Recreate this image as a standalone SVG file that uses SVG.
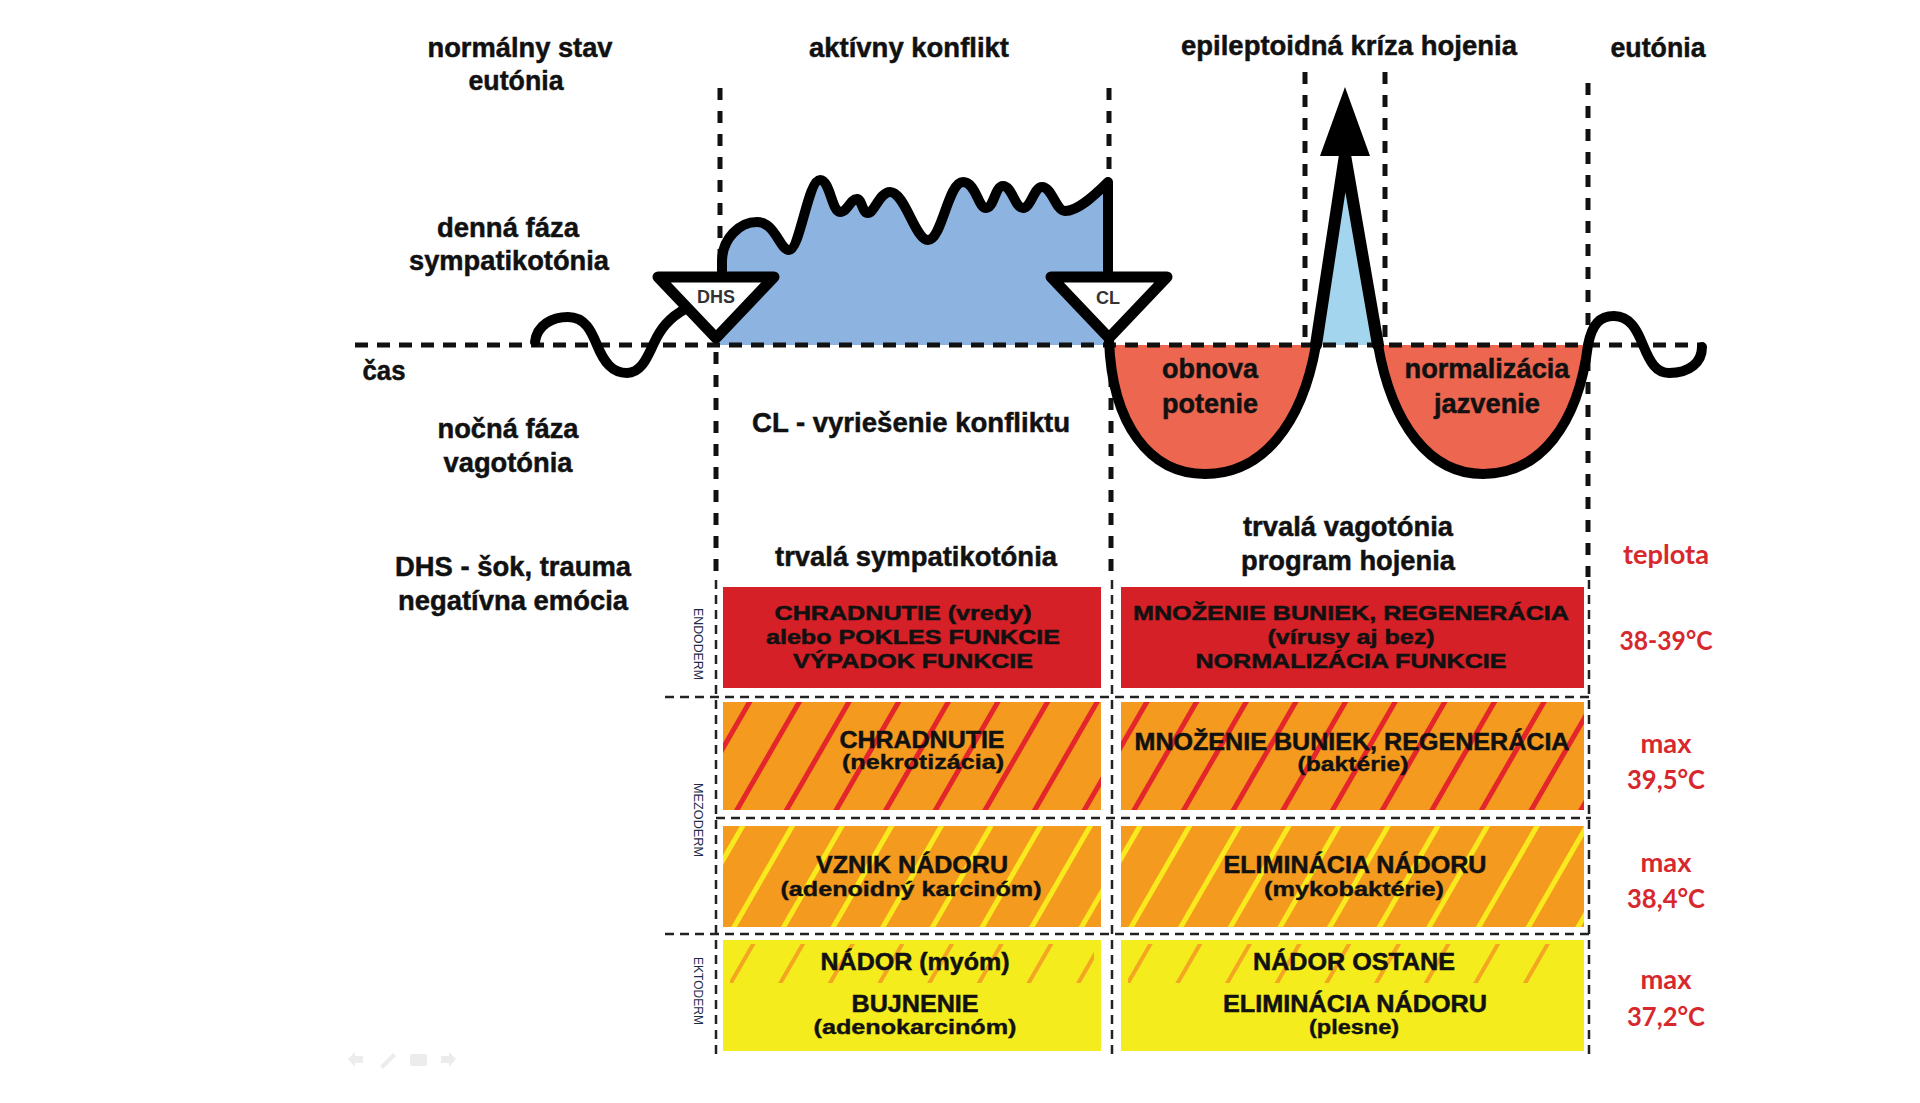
<svg xmlns="http://www.w3.org/2000/svg" width="1920" height="1103" viewBox="0 0 1920 1103">
<style>
.h{font-family:"Liberation Sans",Arial,sans-serif;font-weight:bold;font-size:28px;fill:#111;stroke:#111;stroke-width:0.5;text-anchor:middle}
.b{font-family:"Liberation Sans",Arial,sans-serif;font-weight:bold;font-size:24px;fill:#111;stroke:#111;stroke-width:0.5;text-anchor:middle}
.r{font-family:"Liberation Sans",Arial,sans-serif;font-weight:bold;font-size:21px;fill:#111;stroke:#111;stroke-width:0.5;text-anchor:middle}
.s{font-family:"Liberation Sans",Arial,sans-serif;font-weight:bold;font-size:21px;fill:#111;stroke:#111;stroke-width:0.4;text-anchor:middle}
.tri{font-family:"Liberation Sans",Arial,sans-serif;font-weight:bold;font-size:18px;fill:#333;text-anchor:middle}
.t{font-family:Lato,"Open Sans",sans-serif;font-weight:bold;font-size:27px;fill:#d7282d;text-anchor:middle}
.g{font-family:"Liberation Sans",Arial,sans-serif;font-size:12.5px;fill:#1d2b4a;text-anchor:middle}
.dk{fill:none;stroke:#111;stroke-width:5;stroke-dasharray:13 9}
.dv{fill:none;stroke:#111;stroke-width:5;stroke-dasharray:12 11}
.dt{fill:none;stroke:#222;stroke-width:2.5;stroke-dasharray:9 6}
.ln{fill:none;stroke:#000;stroke-width:10;stroke-linecap:round;stroke-linejoin:round}
.sp{fill:none;stroke:#000;stroke-width:12;stroke-linecap:round;stroke-linejoin:round}
.trg{fill:#fff;stroke:#000;stroke-width:11;stroke-linejoin:round}
.ic{fill:#ececec}
</style>
<defs>
<pattern id="hR" patternUnits="userSpaceOnUse" width="43" height="20" patternTransform="translate(10,0) rotate(30)"><rect x="0" y="0" width="5" height="20" fill="#e4252b"/></pattern>
<pattern id="hY" patternUnits="userSpaceOnUse" width="43" height="20" patternTransform="translate(25,0) rotate(30)"><rect x="0" y="0" width="5" height="20" fill="#f8ea1c"/></pattern>
<pattern id="hO" patternUnits="userSpaceOnUse" width="43" height="20" patternTransform="translate(5,0) rotate(30)"><rect x="0" y="0" width="4" height="20" fill="#f4a522"/></pattern>
</defs>
<rect width="1920" height="1103" fill="#fff"/>

<g id="fills">
<path d="M716,345 L722,277 L722,262 C722,238 740,222 757,222 C775,222 780,250 789,250 C800,250 808,180 820,180 C830,180 832,212 840,212 C848,212 850,199 857,199 C862,199 862,213 868,213 C874,213 880,192 890,192 C905,192 915,240 928,240 C942,240 948,182 963,182 C976,182 978,208 986,208 C994,208 995,186 1003,186 C1012,186 1015,208 1023,208 C1031,208 1034,187 1042,187 C1052,187 1056,211 1065,211 C1078,211 1095,195 1108,182 L1109,345 Z" fill="#8db3e0"/>
<path d="M1109,345 C1112,425 1150,474 1205,474 C1262,474 1302,425 1316,345 Z" fill="#ec6650"/>
<path d="M1378,345 C1392,425 1430,474 1483,474 C1540,474 1578,425 1588,345 Z" fill="#ec6650"/>
<path d="M1316,345 L1345,150 L1378,345 Z" fill="#a3d5ee"/>
</g>

<g id="connectors">
<line class="dk" x1="355" y1="345" x2="1700" y2="345"/>
<line class="dv" x1="720" y1="88" x2="720" y2="272"/>
<line class="dv" x1="716" y1="352" x2="716" y2="577"/>
<line class="dt" x1="716" y1="580" x2="716" y2="1056"/>
<line class="dv" x1="1109" y1="88" x2="1109" y2="272"/>
<line class="dv" x1="1111" y1="352" x2="1111" y2="577"/>
<line class="dt" x1="1112" y1="580" x2="1112" y2="1056"/>
<line class="dv" x1="1305" y1="72" x2="1305" y2="345"/>
<line class="dv" x1="1385" y1="72" x2="1385" y2="345"/>
<line class="dv" x1="1588" y1="83" x2="1588" y2="577"/>
<line class="dt" x1="1589" y1="580" x2="1589" y2="1056"/>
<line class="dt" x1="665" y1="697" x2="1591" y2="697"/>
<line class="dt" x1="716" y1="818" x2="1591" y2="818"/>
<line class="dt" x1="665" y1="934" x2="1591" y2="934"/>
</g>

<g id="curve">
<path class="ln" d="M535,342 C537,325 552,317 568,317 C586,317 592,333 597,345 C604,362 612,373 627,373 C642,373 648,355 654,343 C660,330 668,318 687,308"/>
<path class="ln" d="M722,277 L722,262 C722,238 740,222 757,222 C775,222 780,250 789,250 C800,250 808,180 820,180 C830,180 832,212 840,212 C848,212 850,199 857,199 C862,199 862,213 868,213 C874,213 880,192 890,192 C905,192 915,240 928,240 C942,240 948,182 963,182 C976,182 978,208 986,208 C994,208 995,186 1003,186 C1012,186 1015,208 1023,208 C1031,208 1034,187 1042,187 C1052,187 1056,211 1065,211 C1078,211 1095,195 1108,182 L1108,277"/>
<path class="ln" d="M1109,340 C1112,425 1150,474 1205,474 C1262,474 1302,425 1316,345"/>
<path class="sp" d="M1316,345 L1345,155 L1378,345"/>
<path class="ln" d="M1378,345 C1392,425 1430,474 1483,474 C1540,474 1578,425 1588,345 C1592,324 1600,316 1614,316 C1630,316 1637,330 1643,345 C1650,362 1656,373 1669,373 C1690,373 1702,362 1702,347"/>
<polygon points="1320,156 1345,87 1370,156" fill="#000"/>
</g>

<g id="dhs">
<polygon class="trg" points="658,277 774,277 716,338"/>
<text class="tri" x="716" y="303">DHS</text>
</g>
<g id="cl">
<polygon class="trg" points="1051,277 1167,277 1109,338"/>
<text class="tri" x="1108" y="304">CL</text>
</g>

<g id="curve-labels">
<text class="h" x="1210" y="378" textLength="96" lengthAdjust="spacingAndGlyphs">obnova</text>
<text class="h" x="1210" y="413" textLength="96" lengthAdjust="spacingAndGlyphs">potenie</text>
<text class="h" x="1487" y="378" textLength="165" lengthAdjust="spacingAndGlyphs">normalizácia</text>
<text class="h" x="1487" y="413" textLength="106" lengthAdjust="spacingAndGlyphs">jazvenie</text>
</g>

<g id="headers">
<text class="h" x="520" y="57" textLength="185" lengthAdjust="spacingAndGlyphs">normálny stav</text>
<text class="h" x="516" y="90" textLength="95" lengthAdjust="spacingAndGlyphs">eutónia</text>
<text class="h" x="909" y="57" textLength="200" lengthAdjust="spacingAndGlyphs">aktívny konflikt</text>
<text class="h" x="1349" y="55" textLength="336" lengthAdjust="spacingAndGlyphs">epileptoidná kríza hojenia</text>
<text class="h" x="1658" y="57" textLength="95" lengthAdjust="spacingAndGlyphs">eutónia</text>
</g>

<g id="side-labels">
<text class="h" x="508" y="237" textLength="142" lengthAdjust="spacingAndGlyphs">denná fáza</text>
<text class="h" x="509" y="270" textLength="200" lengthAdjust="spacingAndGlyphs">sympatikotónia</text>
<text class="h" x="384" y="380" textLength="43" lengthAdjust="spacingAndGlyphs">čas</text>
<text class="h" x="508" y="438" textLength="141" lengthAdjust="spacingAndGlyphs">nočná fáza</text>
<text class="h" x="508" y="472" textLength="129" lengthAdjust="spacingAndGlyphs">vagotónia</text>
<text class="h" x="911" y="432" textLength="318" lengthAdjust="spacingAndGlyphs">CL - vyriešenie konfliktu</text>
<text class="h" x="513" y="576" textLength="236" lengthAdjust="spacingAndGlyphs">DHS - šok, trauma</text>
<text class="h" x="513" y="610" textLength="230" lengthAdjust="spacingAndGlyphs">negatívna emócia</text>
<text class="h" x="916" y="566" textLength="282" lengthAdjust="spacingAndGlyphs">trvalá sympatikotónia</text>
<text class="h" x="1348" y="536" textLength="210" lengthAdjust="spacingAndGlyphs">trvalá vagotónia</text>
<text class="h" x="1348" y="570" textLength="214" lengthAdjust="spacingAndGlyphs">program hojenia</text>
</g>

<g id="germ-layers">
<text class="g" transform="translate(694,644) rotate(90)" textLength="72" lengthAdjust="spacingAndGlyphs">ENDODERM</text>
<text class="g" transform="translate(694,820) rotate(90)" textLength="74" lengthAdjust="spacingAndGlyphs">MEZODERM</text>
<text class="g" transform="translate(694,991) rotate(90)" textLength="68" lengthAdjust="spacingAndGlyphs">EKTODERM</text>
</g>

<g id="row-endoderm">
<rect x="723" y="587" width="378" height="101" fill="#d52027"/>
<rect x="1121" y="587" width="463" height="101" fill="#d52027"/>
<text class="r" x="903" y="620" textLength="257" lengthAdjust="spacingAndGlyphs">CHRADNUTIE (vredy)</text>
<text class="r" x="913" y="644" textLength="294" lengthAdjust="spacingAndGlyphs">alebo POKLES FUNKCIE</text>
<text class="r" x="913" y="668" textLength="240" lengthAdjust="spacingAndGlyphs">VÝPADOK FUNKCIE</text>
<text class="r" x="1351" y="620" textLength="436" lengthAdjust="spacingAndGlyphs">MNOŽENIE BUNIEK, REGENERÁCIA</text>
<text class="r" x="1351" y="644" textLength="167" lengthAdjust="spacingAndGlyphs">(vírusy aj bez)</text>
<text class="r" x="1351" y="668" textLength="311" lengthAdjust="spacingAndGlyphs">NORMALIZÁCIA FUNKCIE</text>
</g>

<g id="row-mezoderm-1">
<rect x="723" y="702" width="378" height="108" fill="#f39a1f"/>
<rect x="1121" y="702" width="463" height="108" fill="#f39a1f"/>
<rect x="723" y="702" width="378" height="108" fill="url(#hR)"/>
<rect x="1121" y="702" width="463" height="108" fill="url(#hR)"/>
<text class="b" x="922" y="748" textLength="165" lengthAdjust="spacingAndGlyphs">CHRADNUTIE</text>
<text class="s" x="923" y="769" textLength="162" lengthAdjust="spacingAndGlyphs">(nekrotizácia)</text>
<text class="b" x="1352" y="750" textLength="435" lengthAdjust="spacingAndGlyphs">MNOŽENIE BUNIEK, REGENERÁCIA</text>
<text class="s" x="1353" y="771" textLength="111" lengthAdjust="spacingAndGlyphs">(baktérie)</text>
</g>

<g id="row-mezoderm-2">
<rect x="723" y="826" width="378" height="101" fill="#f39a1f"/>
<rect x="1121" y="826" width="463" height="101" fill="#f39a1f"/>
<rect x="723" y="826" width="378" height="101" fill="url(#hY)"/>
<rect x="1121" y="826" width="463" height="101" fill="url(#hY)"/>
<text class="b" x="912" y="873" textLength="192" lengthAdjust="spacingAndGlyphs">VZNIK NÁDORU</text>
<text class="s" x="911" y="896" textLength="261" lengthAdjust="spacingAndGlyphs">(adenoidný karcinóm)</text>
<text class="b" x="1355" y="873" textLength="263" lengthAdjust="spacingAndGlyphs">ELIMINÁCIA NÁDORU</text>
<text class="s" x="1354" y="896" textLength="180" lengthAdjust="spacingAndGlyphs">(mykobaktérie)</text>
</g>

<g id="row-ektoderm">
<rect x="723" y="940" width="378" height="111" fill="#f4ec1c"/>
<rect x="1121" y="940" width="463" height="111" fill="#f4ec1c"/>
<rect x="730" y="944" width="364" height="39" fill="url(#hO)"/>
<rect x="1128" y="944" width="440" height="39" fill="url(#hO)"/>
<text class="b" x="915" y="970" textLength="189" lengthAdjust="spacingAndGlyphs">NÁDOR (myóm)</text>
<text class="b" x="915" y="1012" textLength="127" lengthAdjust="spacingAndGlyphs">BUJNENIE</text>
<text class="s" x="915" y="1034" textLength="203" lengthAdjust="spacingAndGlyphs">(adenokarcinóm)</text>
<text class="b" x="1354" y="970" textLength="202" lengthAdjust="spacingAndGlyphs">NÁDOR OSTANE</text>
<text class="b" x="1355" y="1012" textLength="264" lengthAdjust="spacingAndGlyphs">ELIMINÁCIA NÁDORU</text>
<text class="s" x="1354" y="1034" textLength="90" lengthAdjust="spacingAndGlyphs">(plesne)</text>
</g>

<g id="temperature">
<text class="t" x="1666" y="564" textLength="86" lengthAdjust="spacingAndGlyphs">teplota</text>
<text class="t" x="1666" y="650" textLength="93" lengthAdjust="spacingAndGlyphs">38-39°C</text>
<text class="t" x="1666" y="753" textLength="51" lengthAdjust="spacingAndGlyphs">max</text>
<text class="t" x="1666" y="789" textLength="78" lengthAdjust="spacingAndGlyphs">39,5°C</text>
<text class="t" x="1666" y="872" textLength="51" lengthAdjust="spacingAndGlyphs">max</text>
<text class="t" x="1666" y="908" textLength="78" lengthAdjust="spacingAndGlyphs">38,4°C</text>
<text class="t" x="1666" y="989" textLength="51" lengthAdjust="spacingAndGlyphs">max</text>
<text class="t" x="1666" y="1026" textLength="78" lengthAdjust="spacingAndGlyphs">37,2°C</text>
</g>

<g id="nav-icons">
<polygon class="ic" points="348,1059 355,1052 355,1056 363,1056 363,1063 355,1063 355,1067"/>
<polygon class="ic" points="380,1066 393,1053 396,1056 383,1069"/>
<rect class="ic" x="410" y="1054" width="17" height="12" rx="2"/>
<polygon class="ic" points="456,1059 449,1052 449,1056 441,1056 441,1063 449,1063 449,1067"/>
</g>
</svg>
